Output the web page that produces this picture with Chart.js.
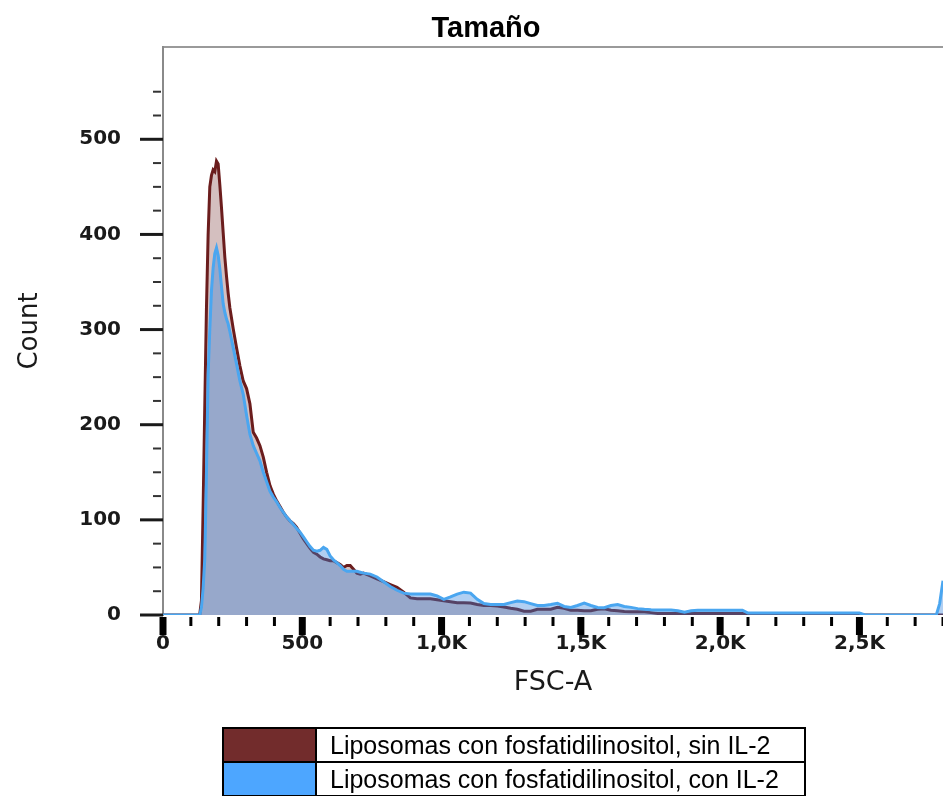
<!DOCTYPE html>
<html>
<head>
<meta charset="utf-8">
<script src="https://cdn.jsdelivr.net/npm/chart.js@4.4.1/dist/chart.umd.min.js"></script>
<style>
html,body{margin:0;padding:0;background:#fff;}
#wrap{position:relative;width:943px;height:796px;overflow:hidden;background:#fff;}
#c{position:absolute;left:0;top:0;}
#title{position:absolute;left:0;top:13px;width:972px;text-align:center;font:bold 29px "Liberation Sans",Arial,sans-serif;line-height:29px;color:#000;}
#legend{position:absolute;left:222px;top:727px;width:584px;border:2px solid #000;border-bottom:none;box-sizing:border-box;}
.row{display:flex;height:34px;border-bottom:2px solid #000;box-sizing:border-box;}
.sw{width:93px;border-right:2px solid #000;box-sizing:border-box;}
.tx{padding-left:13px;font:25px "Liberation Sans",Arial,sans-serif;line-height:32px;color:#000;white-space:nowrap;}
</style>
</head>
<body>
<div id="wrap">
  <canvas id="c" width="943" height="796"></canvas>
  <div id="title">Tamaño</div>
  <div id="legend"></div>
</div>
<script>
// ---- data ----
const chartTitle = 'Tamaño';
const xAxisTitle = 'FSC-A';
const yAxisTitle = 'Count';

const fscBins = [0,110,126,132,138,144,150,156,162,168,174,180,186,192,198,204,210,216,222,228,234,240,
  252,264,276,288,300,312,324,336,348,360,372,384,396,408,420,432,444,456,468,480,492,504,516,528,540,552,564,576,588,600,
  612,624,636,648,660,672,684,696,708,720,
  744,768,792,816,840,864,888,912,936,960,984,1008,1032,1056,1080,1104,1128,1152,1176,1200,
  1224,1248,1272,1296,1320,1344,1368,1392,1416,1440,1464,1488,1512,1536,1560,1584,1608,1632,1656,1680,
  1704,1728,1752,1776,1800,1824,1848,1872,1896,1920,1944,
  2000,2080,2100,2200,2300,2400,2500,2520,2600,2700,2776,2788,2800];

const countSinIL2 = [0,0,0,1,15,113,220,323,400,450,462,468,466,477,474,452,428,402,376,356,338,323,
  301,281,262,246,238,222,192,186,178,166,150,136,127,120,114,108,103,99,96,92,86,80,75,70,66,64,61,59,58,57,
  57,55,53,50,52,52,48,44,43,44,
  41,38,35,32,29,24,18,17,17,17,16,15,14,13,13,12.5,11,10,10,9.5,
  8.5,7,6,4,4,6,6,6,8,7,5,5,4.5,4.5,6,6.5,5,4.5,3.7,3.5,
  3.4,3.3,2.5,1.7,1.5,1.5,1.5,1.5,1.5,1.5,1.5,
  1.5,1.5,1,1,1,1,1,0,0,0,0,0,0];

const countConIL2 = [0,0,0,0,8,28,59,150,253,300,341,365,380,386,378,364,345,327,318,311,306,298,
  281,264,246,232,210,190,178,170,162,150,140,130,124,119,113,108,103,99,95,91,87,82,77,72,68,67,68,71,69,62,
  58,55,52,48,46,46,46,46,45,44,
  43,40,35,30,26,23,22,22,22,22,20,16.5,19,22,24,23,16.5,12,11,11,
  11,13,14.7,14,12,10,10,11,12.4,9,8,10,12.4,10,8,7.7,10,11,9,8,
  6.7,6,5.5,5.3,5.3,5.3,4.5,3,4.5,5,5,
  5,5,2,2,2,2,2,0,0,0,0,12,36];

const seriesNames = ['Liposomas con fosfatidilinositol, sin IL-2', 'Liposomas con fosfatidilinositol, con IL-2'];
const seriesValues = [countSinIL2, countConIL2];
const lineColors = ['#6b1d1d', '#4aa6f0'];
const fillColors = ['rgba(114,44,44,0.30)', 'rgba(50,130,220,0.38)'];
const swatchColors = ['#722c2c', '#4da6ff'];

const xTickValues = [0, 500, 1000, 1500, 2000, 2500];
const xTickLabels = ['0', '500', '1,0K', '1,5K', '2,0K', '2,5K'];
const yTickValues = [0, 100, 200, 300, 400, 500];
const yTickLabels = ['0', '100', '200', '300', '400', '500'];

// ---- HTML legend (table-like) ----
document.getElementById('title').textContent = chartTitle;
const legendEl = document.getElementById('legend');
seriesNames.forEach((name, i) => {
  const row = document.createElement('div'); row.className = 'row';
  const sw = document.createElement('div'); sw.className = 'sw'; sw.style.background = swatchColors[i];
  const tx = document.createElement('div'); tx.className = 'tx'; tx.textContent = name;
  row.appendChild(sw); row.appendChild(tx); legendEl.appendChild(row);
});

// ---- tick marks plugin (major/minor), positioned by the chart's scales ----
const tickMarks = {
  id: 'tickMarks',
  afterDraw(chart) {
    const ctx = chart.ctx;
    const xs = chart.scales.x, ys = chart.scales.y;
    ctx.save();
    ctx.lineCap = 'butt';
    xs.ticks.forEach(t => {
      if (t.value % 100 !== 0) return;
      const major = xTickValues.includes(t.value);
      const px = xs.getPixelForValue(t.value);
      ctx.strokeStyle = '#000';
      ctx.lineWidth = major ? 7 : 3;
      ctx.beginPath();
      ctx.moveTo(px, xs.top + 2);
      ctx.lineTo(px, xs.top + (major ? 20 : 11));
      ctx.stroke();
    });
    ys.ticks.forEach(t => {
      if (t.value % 25 !== 0) return;
      const major = yTickValues.includes(t.value);
      const py = ys.getPixelForValue(t.value);
      ctx.strokeStyle = major ? '#1a1a1a' : '#333';
      ctx.lineWidth = major ? 3 : 2;
      ctx.beginPath();
      ctx.moveTo(ys.right - (major ? 23 : 10), py);
      ctx.lineTo(ys.right - (major ? 0 : 2), py);
      ctx.stroke();
    });
    ctx.restore();
  }
};

const datasets = seriesNames.map((name, i) => ({
  label: name,
  data: fscBins.map((x, j) => ({ x: x, y: seriesValues[i][j] })),
  borderColor: lineColors[i],
  backgroundColor: fillColors[i],
  borderWidth: 3,
  fill: 'origin',
  pointRadius: 0,
  tension: 0,
  order: seriesNames.length - i
}));

const noPad = (s) => { s.paddingLeft = 0; s.paddingRight = 0; s.paddingTop = 0; s.paddingBottom = 0; };

new Chart(document.getElementById('c'), {
  type: 'line',
  data: { datasets: datasets },
  plugins: [tickMarks],
  options: {
    responsive: false,
    animation: false,
    devicePixelRatio: 1,
    layout: { padding: { top: 47, left: 0, right: 0, bottom: 97 } },
    plugins: { legend: { display: false }, tooltip: { enabled: false }, title: { display: false } },
    scales: {
      x: {
        type: 'linear', position: 'bottom', min: 0, max: 2800,
        grid: { display: false, drawTicks: false },
        border: { display: false },
        ticks: {
          stepSize: 100, autoSkip: false, maxRotation: 0, minRotation: 0, padding: 17,
          color: '#1a1a1a', font: { family: 'DejaVu Sans', size: 20, weight: 'bold' },
          callback: (v) => { const k = xTickValues.indexOf(v); return k >= 0 ? xTickLabels[k] : ''; }
        },
        title: { display: true, text: xAxisTitle, color: '#1a1a1a', padding: { top: 0, bottom: 0 },
          font: { family: 'DejaVu Sans', size: 27 } },
        afterFit: (s) => { s.height = 84; noPad(s); }
      },
      x2: {
        type: 'linear', position: 'top', axis: 'x', min: 0, max: 2800,
        grid: { display: false, drawTicks: false },
        ticks: { display: false },
        border: { display: true, color: '#9a9a9a', width: 2 },
        afterFit: (s) => { s.height = 0; noPad(s); }
      },
      y: {
        type: 'linear', position: 'left', min: 0, max: 597,
        grid: { display: false, drawTicks: false },
        border: { display: true, color: '#8a8a8a', width: 2 },
        ticks: {
          stepSize: 25, autoSkip: false, padding: 42,
          color: '#1a1a1a', font: { family: 'DejaVu Sans', size: 20, weight: 'bold' },
          callback: (v) => { const k = yTickValues.indexOf(v); return k >= 0 ? yTickLabels[k] : ''; }
        },
        title: { display: true, text: yAxisTitle, color: '#1a1a1a', padding: { top: 15, bottom: 0 },
          font: { family: 'DejaVu Sans', size: 26 } },
        afterFit: (s) => { s.width = 163; noPad(s); }
      }
    }
  }
});
</script>
</body>
</html>
